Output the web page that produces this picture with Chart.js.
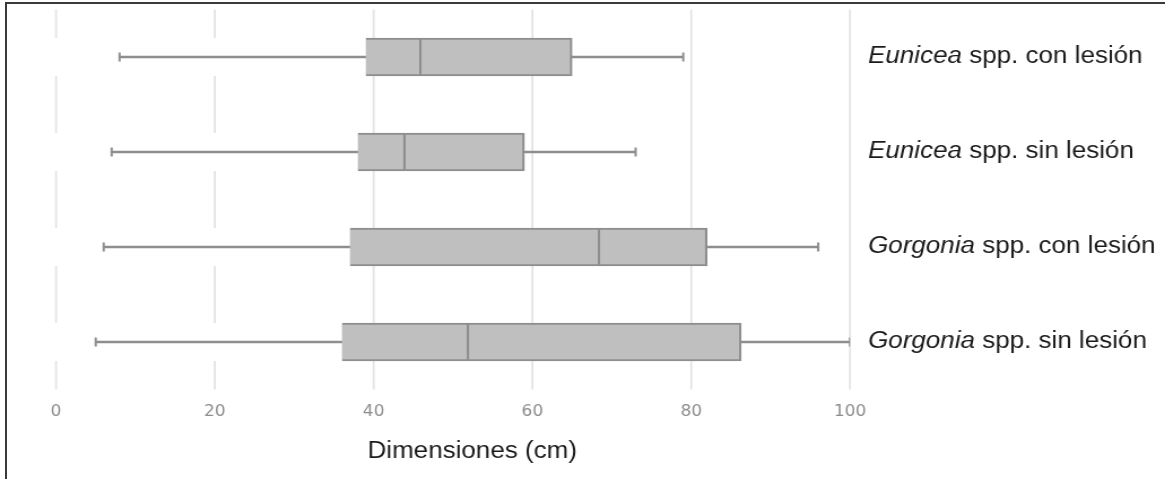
<!DOCTYPE html>
<html lang="es">
<head>
    <meta charset="UTF-8">
    <title>Dimensiones de colonias</title>
    <script src="https://cdn.jsdelivr.net/npm/chart.js"></script>
    <style>
        html, body { margin: 0; padding: 0; background: #fff; overflow: hidden; }
        #marco {
            position: absolute; left: 0; top: 0; width: 1165px; height: 479px;
        }
        /* la imagen original esta estirada en horizontal */
        #envoltura {
            position: absolute; left: 0; top: 0;
            width: 1031px; height: 479px;
            transform: scaleX(1.13); transform-origin: 0 0;
        }
        #borde {
            position: absolute; left: 5px; top: 2px; width: 1200px; height: 500px;
            border-top: 2px solid #3a3a3a; border-left: 2px solid #3a3a3a;
        }
    </style>
</head>
<body>
<div id="marco">
    <div id="envoltura"><canvas id="grafico"></canvas></div>
    <div id="borde"></div>
</div>
<script>
    // Datos (cm)
    const generos = ['Eunicea', 'Eunicea', 'Gorgonia', 'Gorgonia'];
    const restos = [' spp. con lesión', ' spp. sin lesión', ' spp. con lesión', ' spp. sin lesión'];
    const categorias = generos.map((g, i) => g + restos[i]);
    const minimos = [8, 7, 6, 5];
    const cuartil1 = [39, 38, 37, 36];
    const medianas = [46, 44, 68.5, 52];
    const cuartil3 = [65, 59, 82, 86.3];
    const maximos = [79, 73, 96, 100];
    const ticksX = [0, 20, 40, 60, 80, 100];
    const ticksConHueco = [0, 20];

    const gris = '#8e8e8e';

    // lineas verticales de la rejilla (las de 0 y 20 cortadas en cada fila)
    const rejilla = {
        id: 'rejilla',
        beforeDatasetsDraw(chart) {
            const { ctx, chartArea: a, scales: { x, y } } = chart;
            ctx.save();
            ctx.strokeStyle = '#e3e3e3';
            ctx.lineWidth = 1.7;
            ticksX.forEach(v => {
                const px = x.getPixelForValue(v);
                ctx.beginPath();
                if (ticksConHueco.includes(v)) {
                    let y0 = a.top;
                    categorias.forEach((c, i) => {
                        const yc = y.getPixelForValue(i);
                        ctx.moveTo(px, y0);
                        ctx.lineTo(px, yc - 19);
                        y0 = yc + 19;
                    });
                    ctx.moveTo(px, y0);
                    ctx.lineTo(px, a.bottom);
                } else {
                    ctx.moveTo(px, a.top);
                    ctx.lineTo(px, a.bottom);
                }
                ctx.stroke();
            });
            ctx.restore();
        }
    };

    // etiquetas de las filas (genero en cursiva) y titulo del eje
    const textos = {
        id: 'textos',
        afterDraw(chart) {
            const { ctx, chartArea: a, scales: { y } } = chart;
            ctx.save();
            ctx.fillStyle = '#1a1a1a';
            ctx.textBaseline = 'alphabetic';
            ctx.textAlign = 'left';
            categorias.forEach((c, i) => {
                const yc = y.getPixelForValue(i) + 6;
                const x0 = a.right + 16;
                ctx.font = 'italic 23px "Liberation Sans", Arial, sans-serif';
                ctx.fillText(generos[i], x0, yc);
                const w = ctx.measureText(generos[i]).width;
                ctx.font = '23px "Liberation Sans", Arial, sans-serif';
                ctx.fillText(restos[i], x0 + w, yc);
            });
            ctx.textAlign = 'center';
            ctx.font = '23px "Liberation Sans", Arial, sans-serif';
            ctx.fillText('Dimensiones (cm)', (a.left + a.right) / 2 + 17, 457.5);
            ctx.restore();
        }
    };

    const cajaComun = {
        type: 'bar',
        backgroundColor: '#bfbfbf',
        borderColor: gris,
        borderWidth: 2.2,
        barThickness: 38,
        grouped: false,
        order: 1
    };

    const puntosCierre = [];
    categorias.forEach((c, i) => {
        puntosCierre.push({ x: minimos[i], y: c });
        puntosCierre.push({ x: maximos[i], y: c });
    });

    const ctx = document.getElementById('grafico').getContext('2d');
    const grafico = new Chart(ctx, {
        type: 'bar',
        data: {
            labels: categorias,
            datasets: [
                {
                    type: 'bar',
                    label: 'bigotes',
                    data: categorias.map((c, i) => [minimos[i], maximos[i]]),
                    backgroundColor: gris,
                    borderWidth: 0,
                    barThickness: 2,
                    grouped: false,
                    order: 3
                },
                {
                    type: 'scatter',
                    label: 'extremos',
                    data: puntosCierre,
                    pointStyle: 'line',
                    rotation: 90,
                    radius: 4.5,
                    borderWidth: 2,
                    borderColor: gris,
                    backgroundColor: gris,
                    order: 2
                },
                Object.assign({}, cajaComun, {
                    label: 'Q1-mediana',
                    data: categorias.map((c, i) => [cuartil1[i], medianas[i]])
                }),
                Object.assign({}, cajaComun, {
                    label: 'mediana-Q3',
                    data: categorias.map((c, i) => [medianas[i], cuartil3[i]]),
                    borderSkipped: 'left'
                })
            ]
        },
        options: {
            indexAxis: 'y',
            responsive: true,
            maintainAspectRatio: false,
            animation: false,
            layout: { padding: { left: 49.6, right: 0, top: 9.5, bottom: 57.5 } },
            plugins: {
                legend: { display: false },
                tooltip: { enabled: false }
            },
            scales: {
                x: {
                    type: 'linear',
                    min: 0,
                    max: 100,
                    afterBuildTicks: s => { s.ticks = ticksX.map(v => ({ value: v })); },
                    afterFit: s => { s.height = 32; },
                    grid: { display: false, drawTicks: false },
                    border: { display: false },
                    ticks: {
                        color: '#8c8c8c',
                        padding: 14,
                        font: { family: '"DejaVu Sans"', size: 15 }
                    }
                },
                y: {
                    type: 'category',
                    position: 'right',
                    afterFit: s => { s.width = 278.8; },
                    grid: { display: false },
                    border: { display: false },
                    ticks: { display: false }
                }
            }
        },
        plugins: [rejilla, textos]
    });
</script>
</body>
</html>
